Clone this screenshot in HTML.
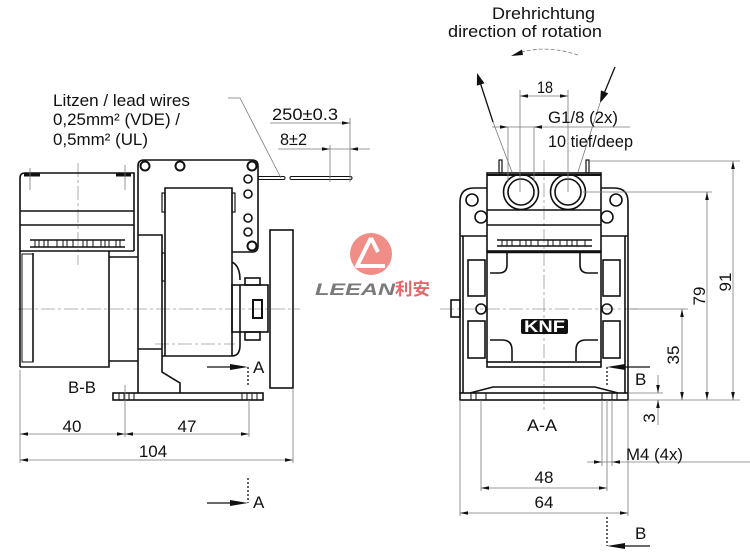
<!DOCTYPE html>
<html><head><meta charset="utf-8"><style>
html,body{margin:0;padding:0;background:#fff;}
svg{display:block}
text{font-family:"Liberation Sans","Noto Sans CJK SC",sans-serif;fill:#111;font-size:17px}
</style></head><body>
<svg width="750" height="553" viewBox="0 0 750 553" xmlns="http://www.w3.org/2000/svg">

<!-- centerlines -->
<g fill="none" stroke="#9a9a9a" stroke-width="0.8" stroke-dasharray="14 3 3 3">
  <line x1="18" y1="309" x2="300" y2="309"/>
  <line x1="155" y1="344" x2="235" y2="344"/>
  <line x1="78" y1="163" x2="78" y2="265"/>
  <line x1="440" y1="309" x2="640" y2="309"/>
  <line x1="544" y1="160" x2="544" y2="412"/>
</g>

<!-- LEFT VIEW -->
<g fill="none" stroke="#111" stroke-width="1.6">
  <path d="M20,367 L20,178 Q20,173 25,173 L134,173 L134,251"/>
  <line x1="20" y1="211" x2="134" y2="211"/>
  <line x1="20" y1="225" x2="134" y2="225"/>
  <line x1="20" y1="251" x2="134" y2="251"/>
  <line x1="30" y1="240" x2="125" y2="240"/>
  <line x1="30" y1="247" x2="125" y2="247"/>
  <path d="M109,251 L109,367 L20,367"/>
  <line x1="33" y1="253" x2="33" y2="362"/>
  <rect x="22" y="254" width="11" height="108" stroke-width="1"/>
  <path d="M109,257 L138,257 M109,361 L138,361"/>
  <path d="M138,393 L138,166 Q138,160 144,160 L252,160 Q258,160 258,166 L258,246 Q258,252 252,252 L232,252"/>
  <path d="M138,235 L162,235 L162,372 L180,383 L180,393 M138,349 L162,349"/>
  <path d="M165,356 L165,188 L232,188 L232,356 M162,356 L232,356 Q240,356 240,345 L240,285 M232,262 Q240,266 240,280"/>
  <rect x="162" y="193" width="3" height="19" stroke-width="1.2"/>
  <rect x="232" y="193" width="3" height="19" stroke-width="1.2"/>
  <rect x="162" y="253" width="3" height="28" stroke-width="1.2"/>
  <rect x="245" y="278" width="15" height="7"/>
  <rect x="232" y="285" width="36" height="47"/>
  <rect x="245" y="332" width="15" height="8"/>
  <rect x="253" y="300" width="9" height="18" stroke-width="2"/>
  <rect x="270" y="230" width="23" height="158"/>
  <rect x="113" y="393" width="150" height="7"/>
  <circle cx="145" cy="166" r="4.5" stroke-width="2"/>
  <circle cx="180" cy="166" r="4.5" stroke-width="2"/>
  <circle cx="252" cy="166" r="4.5" stroke-width="2"/>
  <circle cx="248" cy="179" r="4"/>
  <circle cx="248" cy="194" r="4"/>
  <circle cx="248" cy="218" r="4"/>
  <circle cx="248" cy="232" r="4"/>
  <circle cx="252" cy="246" r="4.5" stroke-width="2"/>
  <rect x="258" y="176.5" width="27" height="3" rx="1.5" stroke-width="1"/>
  <rect x="290" y="176.5" width="62" height="3" rx="1.5" stroke-width="1"/>
</g>
<g stroke="#111" stroke-width="1">
  <line x1="119" y1="393" x2="119" y2="400"/><line x1="124" y1="393" x2="124" y2="400"/><line x1="129" y1="393" x2="129" y2="400"/><line x1="134" y1="393" x2="134" y2="400"/>
  <line x1="242" y1="393" x2="242" y2="400"/><line x1="247" y1="393" x2="247" y2="400"/><line x1="252" y1="393" x2="252" y2="400"/><line x1="257" y1="393" x2="257" y2="400"/>
  <line x1="35" y1="240" x2="35" y2="247"/><line x1="39" y1="240" x2="39" y2="247"/><line x1="44" y1="240" x2="44" y2="247"/><line x1="48" y1="240" x2="48" y2="247"/><line x1="57" y1="240" x2="57" y2="247"/><line x1="63" y1="240" x2="63" y2="247"/><line x1="67" y1="240" x2="67" y2="247"/><line x1="73" y1="240" x2="73" y2="247"/><line x1="83" y1="240" x2="83" y2="247"/><line x1="87" y1="240" x2="87" y2="247"/><line x1="93" y1="240" x2="93" y2="247"/><line x1="101" y1="240" x2="101" y2="247"/><line x1="105" y1="240" x2="105" y2="247"/><line x1="109" y1="240" x2="109" y2="247"/><line x1="116" y1="240" x2="116" y2="247"/><line x1="120" y1="240" x2="120" y2="247"/>
</g>
<g stroke="#111" stroke-width="3">
  <line x1="24" y1="175" x2="40" y2="175"/>
  <line x1="116" y1="175" x2="131" y2="175"/>
</g>

<!-- RIGHT VIEW -->
<g fill="none" stroke="#111" stroke-width="1.6">
  <path d="M487,188 L474,188 Q460,188 460,202 L460,393"/>
  <path d="M601,188 L614,188 Q628,188 628,202 L628,393"/>
  <line x1="463" y1="236" x2="463" y2="393"/>
  <line x1="625" y1="236" x2="625" y2="393"/>
  <line x1="460" y1="236" x2="487" y2="236"/>
  <line x1="601" y1="236" x2="628" y2="236"/>
  <circle cx="472" cy="200" r="6"/>
  <circle cx="481" cy="217" r="6"/>
  <circle cx="616" cy="200" r="6"/>
  <circle cx="607" cy="217" r="6"/>
  <rect x="487" y="173" width="114" height="78"/>
  <line x1="487" y1="175" x2="601" y2="175" stroke-width="2"/>
  <line x1="487" y1="210" x2="601" y2="210"/>
  <line x1="487" y1="225" x2="601" y2="225"/>
  <line x1="487" y1="252" x2="601" y2="252" stroke-width="2.5"/>
  <line x1="497" y1="240" x2="592" y2="240"/>
  <line x1="497" y1="246" x2="592" y2="246"/>
  <circle cx="521" cy="192" r="17.5"/>
  <circle cx="521" cy="192" r="13"/>
  <circle cx="568" cy="192" r="17.5"/>
  <circle cx="568" cy="192" r="13"/>
  <rect x="499" y="160" width="3" height="13" stroke-width="1.2"/>
  <rect x="586" y="160" width="3" height="13" stroke-width="1.2"/>
  <line x1="487" y1="251" x2="487" y2="362"/>
  <line x1="601" y1="251" x2="601" y2="362"/>
  <path d="M507,253 L507,265 Q507,273 499,273 L490,273"/>
  <path d="M580,253 L580,265 Q580,273 588,273 L598,273"/>
  <path d="M490,340 L502,340 Q512,340 512,350 L512,361"/>
  <path d="M598,340 L586,340 Q576,340 576,350 L576,361"/>
  <rect x="487" y="362" width="114" height="5"/>
  <rect x="468" y="260" width="17" height="36"/>
  <rect x="468" y="321" width="17" height="37"/>
  <rect x="603" y="260" width="17" height="36"/>
  <rect x="603" y="321" width="17" height="37"/>
  <circle cx="481" cy="309" r="5"/>
  <circle cx="607" cy="309" r="5"/>
  <rect x="451" y="300" width="9" height="17"/>
  <path d="M470,393 L493,387 L595,387 L618,393"/>
  <rect x="460" y="393" width="168" height="7"/>
</g>
<g stroke="#111" stroke-width="1">
  <line x1="471" y1="393" x2="471" y2="400"/><line x1="476" y1="393" x2="476" y2="400"/><line x1="486" y1="393" x2="486" y2="400"/>
  <line x1="602" y1="393" x2="602" y2="400"/><line x1="612" y1="393" x2="612" y2="400"/><line x1="617" y1="393" x2="617" y2="400"/>
  <line x1="502" y1="240" x2="502" y2="246"/><line x1="507" y1="240" x2="507" y2="246"/><line x1="512" y1="240" x2="512" y2="246"/><line x1="520" y1="240" x2="520" y2="246"/><line x1="526" y1="240" x2="526" y2="246"/><line x1="531" y1="240" x2="531" y2="246"/><line x1="538" y1="240" x2="538" y2="246"/><line x1="548" y1="240" x2="548" y2="246"/><line x1="553" y1="240" x2="553" y2="246"/><line x1="560" y1="240" x2="560" y2="246"/><line x1="567" y1="240" x2="567" y2="246"/><line x1="572" y1="240" x2="572" y2="246"/><line x1="577" y1="240" x2="577" y2="246"/><line x1="585" y1="240" x2="585" y2="246"/>
</g>
<rect x="521" y="319" width="47" height="15" rx="2" fill="#111"/>
<text x="524" y="332" font-size="14" font-weight="bold" textLength="41" lengthAdjust="spacingAndGlyphs" style="fill:#fff">KNF</text>

<!-- DIMENSION LINES -->
<g fill="none" stroke="#7a7a7a" stroke-width="0.8">
  <line x1="20" y1="370" x2="20" y2="463"/>
  <line x1="125" y1="385" x2="125" y2="437"/>
  <line x1="249" y1="400" x2="249" y2="437"/>
  <line x1="293" y1="388" x2="293" y2="463"/>
  <line x1="20" y1="434" x2="249" y2="434"/>
  <line x1="20" y1="460" x2="293" y2="460"/>
  <line x1="30" y1="168" x2="30" y2="190"/>
  <line x1="125" y1="165" x2="125" y2="190"/>
  <polyline points="228,98 240,98 281,178"/>
  <line x1="270" y1="123" x2="350" y2="123"/>
  <line x1="350" y1="118" x2="350" y2="182"/>
  <line x1="278" y1="149" x2="370" y2="149"/>
  <line x1="330" y1="145" x2="330" y2="182"/>
  <line x1="520" y1="90" x2="520" y2="192"/>
  <line x1="568" y1="90" x2="568" y2="192"/>
  <line x1="520" y1="96" x2="568" y2="96"/>
  <line x1="492" y1="127" x2="630" y2="127"/>
  <line x1="508" y1="127" x2="508" y2="182"/>
  <line x1="534" y1="127" x2="534" y2="182"/>
  <line x1="493" y1="122" x2="512" y2="172"/>
  <line x1="600" y1="103" x2="578" y2="172"/>
  <line x1="590" y1="161" x2="740" y2="161"/>
  <line x1="583" y1="192" x2="712" y2="192"/>
  <line x1="630" y1="309" x2="688" y2="309"/>
  <line x1="628" y1="400" x2="740" y2="400"/>
  <line x1="628" y1="393" x2="663" y2="393"/>
  <line x1="733" y1="161" x2="733" y2="400"/>
  <line x1="707" y1="192" x2="707" y2="400"/>
  <line x1="682" y1="309" x2="682" y2="400"/>
  <line x1="658" y1="375" x2="658" y2="393"/>
  <line x1="658" y1="400" x2="658" y2="425"/>
  <line x1="460" y1="400" x2="460" y2="516"/>
  <line x1="481" y1="400" x2="481" y2="491"/>
  <line x1="602" y1="400" x2="602" y2="466"/>
  <line x1="607" y1="400" x2="607" y2="491"/>
  <line x1="612" y1="400" x2="612" y2="466"/>
  <line x1="628" y1="400" x2="628" y2="516"/>
  <line x1="587" y1="462" x2="750" y2="462"/>
  <line x1="481" y1="488" x2="607" y2="488"/>
  <line x1="460" y1="513" x2="628" y2="513"/>
  <path d="M578,55 Q548,45 522,52" stroke-dasharray="4 2"/>
</g>

<g fill="#111" stroke="none">
  <polygon points="20,434 28,432.2 28,435.8"/><polygon points="125,434 117,432.2 117,435.8"/>
  <polygon points="125,434 133,432.2 133,435.8"/><polygon points="249,434 241,432.2 241,435.8"/>
  <polygon points="20,460 28,458.2 28,461.8"/><polygon points="293,460 285,458.2 285,461.8"/>
  <polygon points="350,123 342,121.2 342,124.8"/>
  <polygon points="330,149 322,147.2 322,150.8"/><polygon points="350,149 358,147.2 358,150.8"/>
  <polygon points="520,96 528,94.2 528,97.8"/><polygon points="568,96 560,94.2 560,97.8"/>
  <polygon points="508,127 500,125.2 500,128.8"/><polygon points="534,127 542,125.2 542,128.8"/>
  <polygon points="733,161 731.2,169 734.8,169"/><polygon points="733,400 731.2,392 734.8,392"/>
  <polygon points="707,192 705.2,200 708.8,200"/><polygon points="707,400 705.2,392 708.8,392"/>
  <polygon points="682,309 680.2,317 683.8,317"/><polygon points="682,400 680.2,392 683.8,392"/>
  <polygon points="658,393 656.2,385 659.8,385"/><polygon points="658,400 656.2,408 659.8,408"/>
  <polygon points="602,462 594,460.2 594,463.8"/><polygon points="612,462 620,460.2 620,463.8"/>
  <polygon points="481,488 489,486.2 489,489.8"/><polygon points="607,488 599,486.2 599,489.8"/>
  <polygon points="460,513 468,511.2 468,514.8"/><polygon points="628,513 620,511.2 620,514.8"/>
  <polygon points="477,73 484.5,83.2 476.9,85.6"/>
  <polygon points="600,103 608.3,93.4 600.9,90.4"/>
  <polygon points="511,56 522,49.5 523,55"/>
  <polygon points="248,367 230,364 230,370"/>
  <polygon points="248,503 230,500 230,506"/>
  <polygon points="607,367 625,364 625,370"/>
  <polygon points="607,546 625,543 625,549"/>
</g>
<g stroke="#111" stroke-width="1.3" fill="none">
  <line x1="493" y1="122" x2="479" y2="79"/>
  <line x1="615" y1="67" x2="603" y2="96"/>
  <line x1="207" y1="367" x2="240" y2="367"/>
  <line x1="207" y1="503" x2="240" y2="503"/>
  <line x1="650" y1="367" x2="615" y2="367"/>
  <line x1="650" y1="546" x2="615" y2="546"/>
  <g stroke-dasharray="2 2">
    <line x1="248" y1="367" x2="248" y2="386"/>
    <line x1="248" y1="478" x2="248" y2="503"/>
    <line x1="607" y1="367" x2="607" y2="385"/>
    <line x1="607" y1="517" x2="607" y2="546"/>
  </g>
</g>

<!-- TEXT -->
<text x="492" y="19" textLength="103" lengthAdjust="spacingAndGlyphs">Drehrichtung</text>
<text x="448" y="37" textLength="154" lengthAdjust="spacingAndGlyphs">direction of rotation</text>
<text x="53" y="106" textLength="137" lengthAdjust="spacingAndGlyphs">Litzen / lead wires</text>
<text x="53" y="125" textLength="127" lengthAdjust="spacingAndGlyphs">0,25mm² (VDE) /</text>
<text x="53" y="145" textLength="95" lengthAdjust="spacingAndGlyphs">0,5mm² (UL)</text>
<text x="272" y="120" textLength="66" lengthAdjust="spacingAndGlyphs">250±0.3</text>
<text x="280" y="145" textLength="27" lengthAdjust="spacingAndGlyphs">8±2</text>
<text x="537" y="93" textLength="16" lengthAdjust="spacingAndGlyphs">18</text>
<text x="548" y="123" textLength="70" lengthAdjust="spacingAndGlyphs">G1/8 (2x)</text>
<text x="548" y="147" textLength="85" lengthAdjust="spacingAndGlyphs">10 tief/deep</text>
<text x="72" y="432" text-anchor="middle">40</text>
<text x="187" y="432" text-anchor="middle">47</text>
<text x="153" y="457" text-anchor="middle">104</text>
<text x="68" y="393" textLength="28" lengthAdjust="spacingAndGlyphs">B-B</text>
<text x="253" y="373">A</text>
<text x="253" y="508">A</text>
<text x="527" y="431" textLength="30" lengthAdjust="spacingAndGlyphs">A-A</text>
<text x="544" y="483" text-anchor="middle">48</text>
<text x="544" y="508" text-anchor="middle">64</text>
<text x="626" y="460" textLength="57" lengthAdjust="spacingAndGlyphs">M4 (4x)</text>
<text x="635" y="385">B</text>
<text x="635" y="539">B</text>
<text transform="translate(731,282) rotate(-90)" text-anchor="middle">91</text>
<text transform="translate(705,296) rotate(-90)" text-anchor="middle">79</text>
<text transform="translate(679,355) rotate(-90)" text-anchor="middle">35</text>
<text transform="translate(655,418) rotate(-90)" text-anchor="middle">3</text>

<!-- LOGO -->
<circle cx="371" cy="254" r="21" fill="#f08d86"/>
<path d="M371,238 L357,266 L385,266 M371,238 L378,252" fill="none" stroke="#fff" stroke-width="4" stroke-linejoin="round"/>
<text x="315" y="295" font-size="19" font-weight="bold" font-style="italic" textLength="80" lengthAdjust="spacingAndGlyphs" style="fill:#7a7a7a">LEEAN</text>
<text x="395" y="295" font-size="17" font-weight="bold" textLength="35" lengthAdjust="spacingAndGlyphs" style="fill:#e4686a">利安</text>
</svg>
</body></html>
